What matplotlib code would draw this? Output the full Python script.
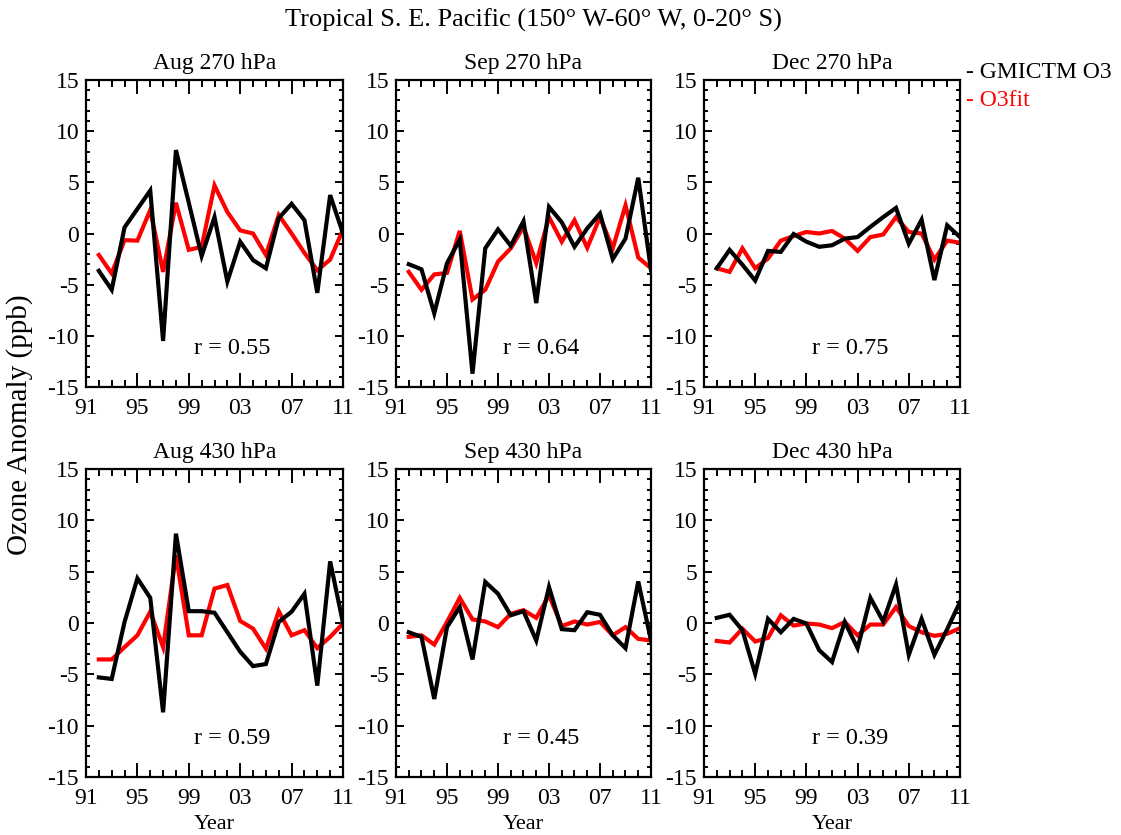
import matplotlib
matplotlib.use("Agg")
import matplotlib.pyplot as plt
from matplotlib.ticker import MultipleLocator, FixedLocator

years = list(range(1992, 2012))

aug270_model = [-3.65, -5.5, 0.6, 2.4, 4.2, -10.5, 8.15, 3.0, -2.2, 1.6,
                -4.7, -0.8, -2.6, -3.4, 1.5, 2.9, 1.3, -5.8, 3.75, 0.0]
aug270_fit = [-2.1, -3.9, -0.65, -0.7, 2.3, -3.75, 3.0, -1.6, -1.3, 4.7,
              2.1, 0.3, 0.0, -2.1, 1.8, 0.0, -1.9, -3.6, -2.55, 0.4]

sep270_model = [-3.0, -3.5, -7.8, -2.9, -0.6, -13.7, -1.45, 0.4, -1.2, 1.2,
                -6.8, 2.6, 1.1, -1.3, 0.5, 1.95, -2.5, -0.5, 5.45, -3.6]
sep270_fit = [-3.75, -5.5, -4.0, -3.85, 0.25, -6.45, -5.5, -2.75, -1.45, 0.65,
              -2.9, 1.6, -0.8, 1.3, -1.4, 1.6, -1.45, 2.75, -2.35, -3.4]

dec270_model = [-3.4, -1.6, -3.05, -4.6, -1.7, -1.8, -0.05, -0.8, -1.3, -1.15,
                -0.5, -0.35, 0.65, 1.6, 2.5, -1.0, 1.35, -4.55, 0.8, -0.35]
dec270_fit = [-3.4, -3.75, -1.45, -3.4, -2.45, -0.7, -0.25, 0.15, 0.0, 0.25,
              -0.5, -1.7, -0.35, -0.1, 1.6, 0.15, 0.0, -2.55, -0.7, -0.9]

aug430_model = [-5.3, -5.45, 0.1, 4.35, 2.45, -8.7, 8.7, 1.15, 1.15, 1.0,
                -0.9, -2.8, -4.2, -4.0, 0.1, 1.1, 2.85, -6.1, 6.0, 0.0]
aug430_fit = [-3.55, -3.55, -2.35, -1.2, 1.1, -2.35, 6.6, -1.2, -1.2, 3.35,
              3.7, 0.2, -0.55, -2.5, 1.15, -1.2, -0.7, -2.45, -1.35, -0.05]

sep430_model = [-0.9, -1.35, -7.4, -0.4, 1.55, -3.55, 4.0, 2.85, 0.75, 1.15,
                -1.7, 3.5, -0.6, -0.7, 1.05, 0.8, -1.2, -2.45, 4.05, -1.7]
sep430_fit = [-1.35, -1.2, -2.1, 0.1, 2.45, 0.35, 0.15, -0.4, 0.9, 1.25,
              0.5, 2.7, -0.3, 0.15, -0.15, 0.1, -1.2, -0.4, -1.55, -1.7]

dec430_model = [0.5, 0.8, -0.7, -4.95, 0.4, -0.9, 0.4, -0.05, -2.65, -3.8,
                0.1, -2.45, 2.45, 0.15, 3.75, -3.1, 0.4, -3.1, -0.6, 2.05]
dec430_fit = [-1.75, -1.9, -0.55, -1.8, -1.45, 0.75, -0.25, -0.05, -0.15, -0.5,
              0.1, -1.2, -0.15, -0.15, 1.55, -0.3, -0.9, -1.25, -1.05, -0.5]

panel_titles = ["Aug 270 hPa", "Sep 270 hPa", "Dec 270 hPa",
                "Aug 430 hPa", "Sep 430 hPa", "Dec 430 hPa"]
r_values = ["0.55", "0.64", "0.75", "0.59", "0.45", "0.39"]
model_series = [aug270_model, sep270_model, dec270_model,
                aug430_model, sep430_model, dec430_model]
fit_series = [aug270_fit, sep270_fit, dec270_fit,
              aug430_fit, sep430_fit, dec430_fit]
xtick_years = [1991, 1995, 1999, 2003, 2007, 2011]
xtick_labels = ["91", "95", "99", "03", "07", "11"]

plt.rcParams['font.family'] = ['Liberation Serif', 'DejaVu Serif']
plt.rcParams['axes.unicode_minus'] = False

W, H = 1121, 835
fig = plt.figure(figsize=(W / 100, H / 100), dpi=100)

lefts = [86, 396, 704]
widths = [257, 255, 256]
tops = [80, 469]
heights = [307, 308]

axes = []
for i in range(6):
    row, col = divmod(i, 3)
    l = lefts[col] / W
    w = widths[col] / W
    b = 1 - (tops[row] + heights[row]) / H
    h = heights[row] / H
    ax = fig.add_axes([l, b, w, h])
    axes.append(ax)
    ax.plot(years, fit_series[i], color='#ff0000', lw=3.0, solid_joinstyle='miter')
    ax.plot(years, model_series[i], color='black', lw=3.0, solid_joinstyle='miter')
    ax.set_xlim(1991, 2011)
    ax.set_ylim(-15, 15)
    ax.xaxis.set_major_locator(FixedLocator(xtick_years))
    ax.set_xticklabels(xtick_labels)
    ax.xaxis.set_minor_locator(MultipleLocator(1))
    ax.yaxis.set_major_locator(MultipleLocator(5))
    ax.yaxis.set_minor_locator(MultipleLocator(1))
    ax.tick_params(axis='both', which='both', direction='in', top=True, right=True,
                   labelsize=17, width=1.4, colors='black')
    ax.tick_params(axis='x', which='major', length=10, pad=8)
    ax.tick_params(axis='x', which='minor', length=5)
    ax.tick_params(axis='y', which='major', length=6, pad=5)
    ax.tick_params(axis='y', which='minor', length=3)
    for s in ax.spines.values():
        s.set_linewidth(1.6)
    ax.set_title(panel_titles[i], fontsize=17, pad=8)
    ax.text(0.57, 0.125, "r = " + r_values[i], transform=ax.transAxes,
            ha='center', va='center', fontsize=17.5)
    if row == 1:
        ax.set_xlabel("Year", fontsize=16, labelpad=4)

fig.text(0.5 * (283 + 783) / W, 1 - 20 / H,
         "Tropical S. E. Pacific (150° W-60° W, 0-20° S)",
         ha='center', va='center', fontsize=19)
fig.text(20 / W, 1 - 425 / H, "Ozone Anomaly (ppb)", rotation=90,
         ha='center', va='center', fontsize=21)
fig.text(966 / W, 1 - 73 / H, "- GMICTM O3", ha='left', va='center',
         fontsize=17, color='black')
fig.text(966 / W, 1 - 101 / H, "- O3fit", ha='left', va='center',
         fontsize=17, color='#ff0000')

fig.savefig("out.png", dpi=100)
